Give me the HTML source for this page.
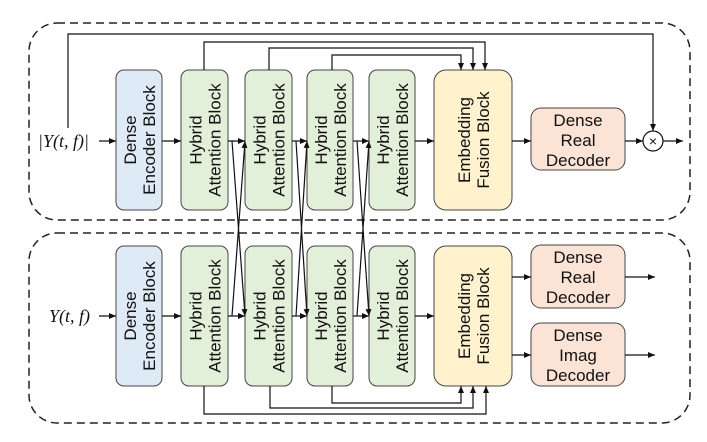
<!DOCTYPE html>
<html><head><style>body{margin:0;background:#fff}svg{display:block}text{font-family:"Liberation Sans",sans-serif;font-size:17px;fill:#111}</style></head>
<body>
<svg width="707" height="442" viewBox="0 0 707 442" xmlns="http://www.w3.org/2000/svg">
<defs><marker id="a" markerWidth="8" markerHeight="8" refX="7" refY="4" orient="auto" markerUnits="userSpaceOnUse"><path d="M0,1 L7,4 L0,7 z" fill="#111"/></marker></defs>
<rect x="29" y="23" width="661" height="197" rx="28" fill="none" stroke="#222" stroke-width="1.5" stroke-dasharray="8,5"/>
<rect x="29" y="233" width="661" height="190" rx="28" fill="none" stroke="#222" stroke-width="1.5" stroke-dasharray="8,5"/>
<g stroke="#444" stroke-width="1">
<rect x="116" y="70" width="46" height="140" rx="8" fill="#deeaf6"/>
<rect x="116" y="246" width="46" height="140" rx="8" fill="#deeaf6"/>
<g fill="#e2efd9">
<rect x="181" y="70" width="47" height="140" rx="8"/><rect x="245" y="70" width="47" height="140" rx="8"/><rect x="307" y="70" width="46" height="140" rx="8"/><rect x="369" y="70" width="46" height="140" rx="8"/>
<rect x="181" y="246" width="47" height="140" rx="8"/><rect x="245" y="246" width="47" height="140" rx="8"/><rect x="307" y="246" width="46" height="140" rx="8"/><rect x="369" y="246" width="46" height="140" rx="8"/>
</g>
<rect x="434" y="70" width="78" height="140" rx="12" fill="#fff2cc"/>
<rect x="434" y="246" width="78" height="140" rx="12" fill="#fff2cc"/>
<g fill="#fbe4d5">
<rect x="531" y="108" width="94" height="62" rx="10"/>
<rect x="531" y="245" width="94" height="63" rx="10"/>
<rect x="531" y="323" width="94" height="63" rx="10"/>
</g>
</g>
<g fill="none" stroke="#111" stroke-width="1.2" marker-end="url(#a)">
<path d="M99,141 H116"/><path d="M162,141 H181"/><path d="M415,141 H434"/><path d="M512,141 H531"/><path d="M625,141 H643"/><path d="M663,141 H683"/>
<path d="M99,316 H116"/><path d="M162,316 H181"/><path d="M415,316 H434"/><path d="M512,277 H531"/><path d="M512,355 H531"/><path d="M625,277 H655"/><path d="M625,355 H655"/>
<path d="M228,141 H245"/><path d="M292,141 H307"/><path d="M353,141 H369"/>
<path d="M228,316 H245"/><path d="M292,316 H307"/><path d="M353,316 H369"/>
<path d="M232,141 L245,316"/><path d="M232,316 L245,141"/>
<path d="M296,141 L307,316"/><path d="M296,316 L307,141"/>
<path d="M357,141 L369,316"/><path d="M357,316 L369,141"/>
<path d="M68,128 V34 H653 V131"/>
<path d="M204,70 V42 H485 V70"/><path d="M269,70 V48 H473 V70"/><path d="M332,70 V55 H461 V70"/>
<path d="M204,386 V414 H486 V386"/><path d="M270,386 V408 H473 V386"/><path d="M332,386 V403 H461 V386"/>
</g>
<circle cx="653" cy="141" r="10" fill="#fff" stroke="#111" stroke-width="1.2"/>
<text x="653" y="146" text-anchor="middle" style="font-size:14px">×</text>
<text x="38" y="147" style="font-family:'Liberation Serif',serif;font-style:italic;font-size:18px">|Y(t, f)|</text>
<text x="49" y="322" style="font-family:'Liberation Serif',serif;font-style:italic;font-size:18px">Y(t, f)</text>
<g text-anchor="middle">
<g transform="translate(139,140) rotate(-90)"><text y="-3">Dense</text><text y="16">Encoder Block</text></g>
<g transform="translate(139,316) rotate(-90)"><text y="-3">Dense</text><text y="16">Encoder Block</text></g>
<g transform="translate(204.5,140) rotate(-90)"><text y="-3">Hybrid</text><text y="16">Attention Block</text></g>
<g transform="translate(268.5,140) rotate(-90)"><text y="-3">Hybrid</text><text y="16">Attention Block</text></g>
<g transform="translate(330,140) rotate(-90)"><text y="-3">Hybrid</text><text y="16">Attention Block</text></g>
<g transform="translate(392,140) rotate(-90)"><text y="-3">Hybrid</text><text y="16">Attention Block</text></g>
<g transform="translate(204.5,316) rotate(-90)"><text y="-3">Hybrid</text><text y="16">Attention Block</text></g>
<g transform="translate(268.5,316) rotate(-90)"><text y="-3">Hybrid</text><text y="16">Attention Block</text></g>
<g transform="translate(330,316) rotate(-90)"><text y="-3">Hybrid</text><text y="16">Attention Block</text></g>
<g transform="translate(392,316) rotate(-90)"><text y="-3">Hybrid</text><text y="16">Attention Block</text></g>
<g transform="translate(473,140) rotate(-90)"><text y="-3">Embedding</text><text y="16">Fusion Block</text></g>
<g transform="translate(473,316) rotate(-90)"><text y="-3">Embedding</text><text y="16">Fusion Block</text></g>
<text x="578" y="126">Dense</text><text x="578" y="146">Real</text><text x="578" y="166">Decoder</text>
<text x="578" y="263">Dense</text><text x="578" y="283">Real</text><text x="578" y="303">Decoder</text>
<text x="578" y="341">Dense</text><text x="578" y="361">Imag</text><text x="578" y="381">Decoder</text>
</g>
</svg>
</body></html>
